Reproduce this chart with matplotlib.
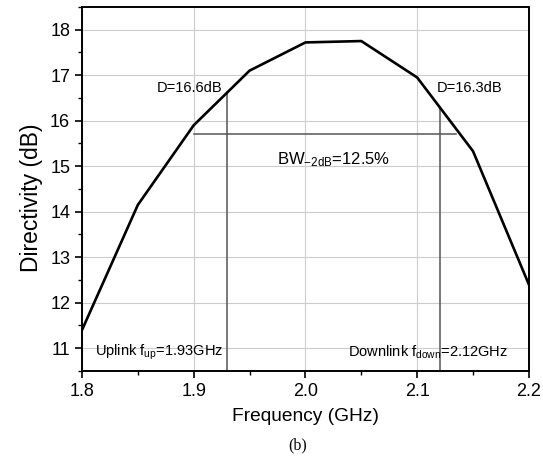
import numpy as np
import matplotlib
matplotlib.use("Agg")
import matplotlib.pyplot as plt
from matplotlib.ticker import MultipleLocator

plt.rcParams['font.family'] = ['Liberation Sans', 'DejaVu Sans']
plt.rcParams['mathtext.fontset'] = 'custom'
plt.rcParams['mathtext.rm'] = 'Liberation Sans'
plt.rcParams['mathtext.default'] = 'regular'

# curve data
freq = [1.80, 1.85, 1.90, 1.95, 2.00, 2.05, 2.10, 2.15, 2.20]
directivity = [11.4, 14.15, 15.9, 17.1, 17.72, 17.75, 16.95, 15.33, 12.4]

f_up = 1.93
f_down = 2.12
bw_level = 15.7
bw_start = 1.90
bw_end = 2.135

fig = plt.figure(figsize=(5.43, 4.62), dpi=100)
ax = fig.add_axes([0.151, 0.197, 0.823, 0.788])

ax.plot(freq, directivity, color='black', lw=1.9, zorder=3)

# marker lines for uplink / downlink and the -2 dB bandwidth
d_up = np.interp(f_up, freq, directivity)
d_down = np.interp(f_down, freq, directivity)
ax.plot([f_up, f_up], [10.5, d_up], color='#555555', lw=1.1, zorder=2)
ax.plot([f_down, f_down], [10.5, d_down], color='#555555', lw=1.1, zorder=2)
ax.plot([bw_start, bw_end], [bw_level, bw_level], color='#555555', lw=1.1, zorder=2)

ax.text(1.896, 16.72, 'D=16.6dB', fontsize=10.5, ha='center', va='center')
ax.text(2.147, 16.72, 'D=16.3dB', fontsize=10.5, ha='center', va='center')
ax.text(2.025, 15.15, 'BW$_{-2dB}$=12.5%', fontsize=12, ha='center', va='center')
ax.text(1.869, 10.92, 'Uplink f$_{up}$=1.93GHz', fontsize=10.5, ha='center', va='center')
ax.text(2.110, 10.92, 'Downlink f$_{down}$=2.12GHz', fontsize=10.5, ha='center', va='center')

ax.set_xlim(1.8, 2.2)
ax.set_ylim(10.5, 18.5)
ax.xaxis.set_major_locator(MultipleLocator(0.1))
ax.xaxis.set_minor_locator(MultipleLocator(0.05))
ax.yaxis.set_major_locator(MultipleLocator(1))
ax.yaxis.set_minor_locator(MultipleLocator(0.5))
ax.set_xticks([1.8, 1.9, 2.0, 2.1, 2.2])
ax.set_xticklabels(['1.8', '1.9', '2.0', '2.1', '2.2'])
ax.tick_params(which='major', direction='out', length=5, width=1.2, labelsize=13)
ax.tick_params(which='minor', direction='out', length=3, width=1.0)
ax.grid(True, which='major', color='#cccccc', lw=0.8)
ax.set_axisbelow(True)
for s in ax.spines.values():
    s.set_linewidth(1.4)

ax.set_xlabel('Frequency (GHz)', fontsize=13.8, labelpad=6)
ax.set_ylabel('Directivity (dB)', fontsize=16.5)
ax.yaxis.set_label_coords(-0.087, 0.475)
fig.text(0.549, 0.035, '(b)', fontsize=11.5, ha='center', va='center',
         family=['Liberation Serif', 'DejaVu Serif'])

fig.savefig('out.png', dpi=100)
